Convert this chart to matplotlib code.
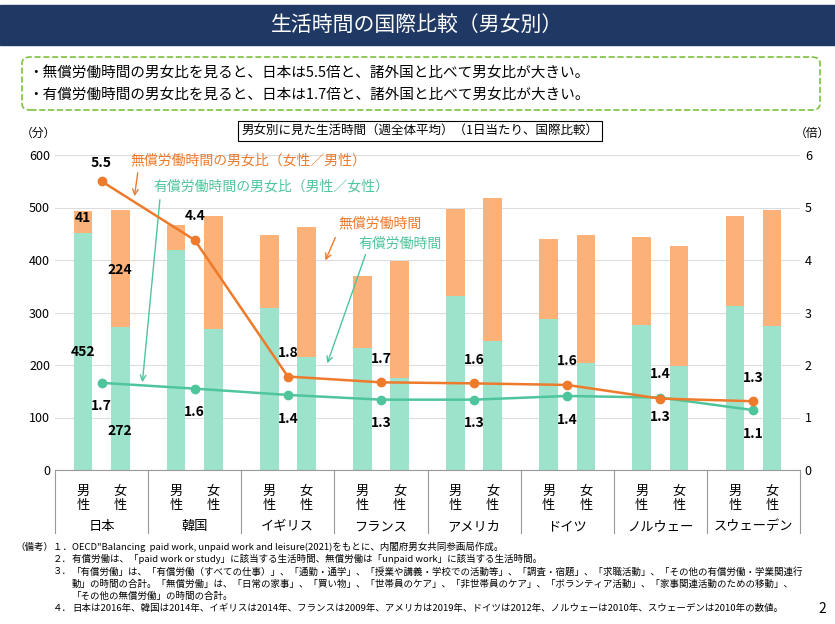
import matplotlib
matplotlib.use('Agg')
import matplotlib.pyplot as plt
from matplotlib.patches import FancyBboxPatch, Rectangle
import numpy as np

plt.rcParams['font.family'] = ['Noto Sans CJK JP', 'DejaVu Sans']

# --- DATA ---
countries = ['日本', '韓国', 'イギリス', 'フランス', 'アメリカ', 'ドイツ', 'ノルウェー', 'スウェーデン']
male_paid = [452, 419, 309, 233, 331, 288, 276, 312]
male_unpaid = [41, 48, 139, 137, 166, 152, 168, 172]
female_paid = [272, 268, 215, 175, 246, 204, 198, 274]
female_unpaid = [224, 216, 248, 223, 272, 244, 229, 221]
unpaid_ratio = [5.5, 4.38, 1.78, 1.67, 1.65, 1.62, 1.36, 1.31]
paid_ratio = [1.66, 1.55, 1.43, 1.34, 1.34, 1.41, 1.38, 1.14]
unpaid_lbl = ['5.5', '4.4', '1.8', '1.7', '1.6', '1.6', '1.3', '1.3']
paid_lbl = ['1.7', '1.6', '1.4', '1.3', '1.3', '1.4', '1.4', '1.1']

C_OR_BAR = '#FBB177'
C_GR_BAR = '#9DE2CA'
C_OR_LINE = '#EE7A2C'
C_GR_LINE = '#4FC59B'

fig = plt.figure(figsize=(8.35, 6.24), dpi=100)

# banner
fig.patches.append(Rectangle((0.0, 1 - 45/624), 1.0, 40/624, transform=fig.transFigure,
                             color='#1F3864'))
fig.text(0.5, 1 - 25/624, '生活時間の国際比較（男女別）', color='white', fontsize=15,
         ha='center', va='center')

# summary box
fig.patches.append(FancyBboxPatch((22/835, 1 - 110/624), 798/835, 53/624,
                                  boxstyle='round,pad=0,rounding_size=0.01',
                                  transform=fig.transFigure, fill=False,
                                  edgecolor='#7DC242', linestyle='--', lw=1.2))
fig.text(28/835, 1 - 73/624, '・無償労働時間の男女比を見ると、日本は5.5倍と、諸外国と比べて男女比が大きい。',
         fontsize=10.5, va='center')
fig.text(28/835, 1 - 95/624, '・有償労働時間の男女比を見ると、日本は1.7倍と、諸外国と比べて男女比が大きい。',
         fontsize=10.5, va='center')

ax = fig.add_axes([55/835, (624-470)/624, 745/835, 315/624])
ax2 = ax.twinx()
x = np.arange(len(countries))
w = 0.2
ax.bar(x - 0.2, male_paid, w, color=C_GR_BAR, zorder=2)
ax.bar(x - 0.2, male_unpaid, w, bottom=male_paid, color=C_OR_BAR, zorder=2)
ax.bar(x + 0.2, female_paid, w, color=C_GR_BAR, zorder=2)
ax.bar(x + 0.2, female_unpaid, w, bottom=female_paid, color=C_OR_BAR, zorder=2)
ax.set_ylim(0, 600)
ax.set_xlim(-0.5, len(countries) - 0.5)
ax.set_yticks(range(0, 601, 100))
ax.grid(axis='y', color='#DDDDDD', lw=0.8, zorder=0)
ax.set_axisbelow(True)
ax.set_xticks([])
for s in ['top', 'right', 'left']:
    ax.spines[s].set_visible(False)
ax.spines['bottom'].set_color('#999999')
ax.tick_params(axis='y', length=0, labelsize=9)

ax2.set_ylim(0, 6)
ax2.set_yticks(range(0, 7))
ax2.tick_params(axis='y', length=0, labelsize=9)
for s in ['top', 'right', 'left', 'bottom']:
    ax2.spines[s].set_visible(False)
ax2.plot(x, paid_ratio, color=C_GR_LINE, lw=1.8, marker='o', ms=6, zorder=3)
ax2.plot(x, unpaid_ratio, color=C_OR_LINE, lw=1.8, marker='o', ms=6, zorder=4)

# bar value labels for Japan
lab = dict(fontsize=10, fontweight='bold', ha='center', va='center')
ax.text(-0.2, male_paid[0] + male_unpaid[0] / 2 + 8, '41', **lab)
ax.text(0.2, 380, '224', **lab)
ax.text(-0.2, 225, '452', **lab)
ax.text(0.2, 75, '272', **lab)

# ratio labels
for i in range(len(countries)):
    up_off = 0.45
    pd_off = -0.45
    if i == 6:
        up_off, pd_off = -0.35, 0.45
    if i == 0:
        up_off = 0.35
    ax2.text(x[i], unpaid_ratio[i] + up_off, unpaid_lbl[i], zorder=5, **lab)
    ax2.text(x[i], paid_ratio[i] + pd_off, paid_lbl[i], zorder=5, **lab)

def dx(px):
    return (px - 55) / 93 - 0.5

def dy(py):
    return (470 - py) / 52.5

ann = [
    ('無償労働時間の男女比（女性／男性）', C_OR_LINE, (130, 160), (138, 170), (134, 199)),
    ('有償労働時間の男女比（男性／女性）', C_GR_LINE, (153, 187), (160, 197), (142, 385)),
    ('無償労働時間', C_OR_LINE, (338, 223), (336, 235), (324, 263)),
    ('有償労働時間', C_GR_LINE, (358, 244), (366, 252), (326, 366)),
]
for txt, c, tp, a0, a1 in ann:
    ax2.text(dx(tp[0]), dy(tp[1]), txt, color=c, fontsize=10, va='center', ha='left')
    ax2.annotate('', xy=(dx(a1[0]), dy(a1[1])), xytext=(dx(a0[0]), dy(a0[1])),
                 arrowprops=dict(arrowstyle='->', color=c, lw=1))

# category labels below axis
tr = ax.get_xaxis_transform()
for i, c in enumerate(countries):
    ax.text(i - 0.2, -0.09, '男\n性', transform=tr, ha='center', va='center', fontsize=9.5, linespacing=1.1)
    ax.text(i + 0.2, -0.09, '女\n性', transform=tr, ha='center', va='center', fontsize=9.5, linespacing=1.1)
    ax.text(i, -0.18, c, transform=tr, ha='center', va='center', fontsize=9.5)
for b in np.arange(-0.5, len(countries), 1.0):
    ax.plot([b, b], [0, -0.2], transform=tr, color='#999999', lw=0.8, clip_on=False)

fig.text(38/835, 1 - 133/624, '（分）', fontsize=8.5, ha='center', va='center')
fig.text(812/835, 1 - 133/624, '（倍）', fontsize=8.5, ha='center', va='center')
fig.text(420/835, 1 - 131/624, '男女別に見た生活時間（週全体平均）（1日当たり、国際比較）', fontsize=9,
         ha='center', va='center',
         bbox=dict(boxstyle='square,pad=0.25', fc='white', ec='black', lw=0.8))

notes = [
    ('（備考）１．', 'OECD"Balancing  paid work, unpaid work and leisure(2021)をもとに、内閣府男女共同参画局作成。'),
    ('２．', '有償労働は、「paid work or study」に該当する生活時間、無償労働は「unpaid work」に該当する生活時間。'),
    ('３．', '「有償労働」は、「有償労働（すべての仕事）」、「通勤・通学」、「授業や講義・学校での活動等」、「調査・宿題」、「求職活動」、「その他の有償労働・学業関連行'),
    ('', '動」の時間の合計。「無償労働」は、「日常の家事」、「買い物」、「世帯員のケア」、「非世帯員のケア」、「ボランティア活動」、「家事関連活動のための移動」、'),
    ('', '「その他の無償労働」の時間の合計。'),
    ('４．', '日本は2016年、韓国は2014年、イギリスは2014年、フランスは2009年、アメリカは2019年、ドイツは2012年、ノルウェーは2010年、スウェーデンは2010年の数値。'),
]
for k, (p, t) in enumerate(notes):
    yy = 1 - (547 + k * 12.3) / 624
    if p:
        fig.text(72/835, yy, p, fontsize=6.8, ha='right', va='center')
    fig.text(72/835, yy, t, fontsize=6.8, ha='left', va='center')
fig.text(822/835, 1 - 609/624, '2', fontsize=10, ha='center', va='center')

fig.savefig('out.png', dpi=100)
